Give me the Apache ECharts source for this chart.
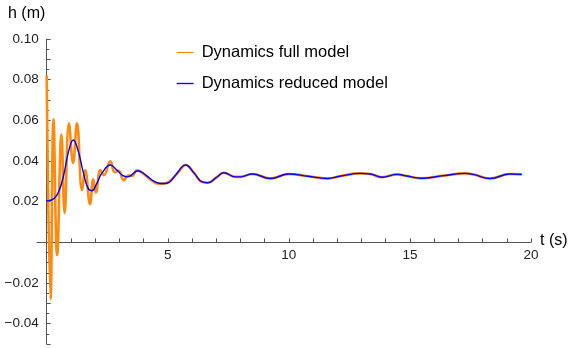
<!DOCTYPE html>
<html>
<head>
<meta charset="utf-8">
<script src="https://cdn.jsdelivr.net/npm/echarts@6/dist/echarts.min.js"></script>
<style>
html,body{margin:0;padding:0;background:#fff;}
#c{width:570px;height:348px;}
</style>
</head>
<body>
<div id="c"></div>
<script>
// Dynamics full model
const fullT = [0, 0.16, 0.28, 0.43, 0.61, 0.74, 0.92, 1.09, 1.25, 1.46, 1.59, 1.79, 1.92, 2.03, 2.22, 2.36, 2.63, 2.81, 2.97, 3.18, 3.39, 3.52, 3.73, 3.94, 4.07, 4.35, 4.62,
  4.9, 5.2, 5.45, 5.74, 6.08, 6.4, 6.65, 7.0, 7.31, 7.8, 8.0, 8.49, 9.24, 10.0, 10.8, 11.6, 12.1, 12.95, 13.36, 13.85, 14.47, 14.88, 15.45, 16.4, 17.28, 17.62, 18.31, 19.13, 19.62];
const fullH = [0.082, -0.028, 0.0605, -0.0063, 0.053, 0.0144, 0.0586, 0.039, 0.0586, 0.0257, 0.0355, 0.0188, 0.031, 0.0245, 0.0355, 0.033, 0.0398, 0.0345, 0.0352, 0.0306, 0.033, 0.0326, 0.0354, 0.0342, 0.033, 0.0303, 0.0288,
  0.029, 0.0314, 0.0347, 0.038, 0.0342, 0.0298, 0.0293, 0.0318, 0.0342, 0.0322, 0.0322, 0.0336, 0.0314, 0.0336, 0.0325, 0.0314, 0.0325, 0.0339, 0.0336, 0.032, 0.0334, 0.0326, 0.0315, 0.0328, 0.0339, 0.0334, 0.0314, 0.0336, 0.0334];
// Dynamics reduced model
const reducedT = [0, 0.3, 0.5, 0.7, 0.9, 1.1, 1.3, 1.5, 1.7, 1.87, 2.05, 2.28, 2.63, 2.9, 3.15, 3.35, 3.77, 4.14, 4.4, 4.72, 5.0, 5.3, 5.74, 6.08, 6.4, 6.65, 7.0, 7.31, 7.8, 8.0, 8.49, 9.24, 10.0, 10.8, 11.6, 12.1, 12.95, 13.36, 13.85, 14.47, 14.88, 15.45, 16.4, 17.28, 17.62, 18.31, 19.13, 19.62];
const reducedH = [0.0203, 0.0215, 0.025, 0.033, 0.0445, 0.0503, 0.045, 0.035, 0.0268, 0.0254, 0.0285, 0.034, 0.038, 0.0355, 0.0328, 0.0322, 0.0352, 0.0326, 0.0302, 0.0289, 0.0292, 0.0328, 0.038, 0.0342, 0.0298, 0.0293, 0.0318, 0.0342, 0.0322, 0.0322, 0.0336, 0.0314, 0.0336, 0.0325, 0.0314, 0.0325, 0.0339, 0.0336, 0.032, 0.0334, 0.0326, 0.0315, 0.0328, 0.0339, 0.0334, 0.0314, 0.0336, 0.0334];
// Tick labels
const xTickLabels = [5, 10, 15, 20];
const xTicks = [1,2,3,4,5,6,7,8,9,10,11,12,13,14,15,16,17,18,19,20];
const yTickLabels = [-0.04, -0.02, 0.02, 0.04, 0.06, 0.08, 0.10];
const seriesNames = ['Dynamics full model', 'Dynamics reduced model'];

const fullData = fullT.map((t, i) => [t, fullH[i]]);
const reducedData = reducedT.map((t, i) => [t, reducedH[i]]);

const X_MIN = -0.4, X_MAX = 20, Y_MIN = -0.05, Y_MAX = 0.1;
const W = 570, H = 348;
const G = {left: 37, right: 39, top: 39, bottom: 4};
const gw = W - G.left - G.right, gh = H - G.top - G.bottom;
// shift axes onto the zero lines (whole axis: line, ticks, labels)
const xOffset = -(gh * (0 - Y_MIN) / (Y_MAX - Y_MIN));
const yOffset = -(gw * (0 - X_MIN) / (X_MAX - X_MIN));

const font = 'Liberation Sans, Arial, sans-serif';
const chart = echarts.init(document.getElementById('c'), null, {renderer: 'canvas'});
chart.setOption({
  animation: false,
  backgroundColor: '#fff',
  grid: Object.assign({containLabel: false}, G),
  legend: {
    orient: 'vertical', left: 171, top: 39, itemGap: 14,
    itemWidth: 17, itemHeight: 16,
    data: seriesNames,
    itemStyle: {opacity: 0},
    lineStyle: {width: 1.3},
    textStyle: {fontFamily: font, fontSize: 16.5, color: '#000', padding: [0, 0, 0, 3]}
  },
  xAxis: {
    type: 'value', min: X_MIN, max: X_MAX, offset: xOffset,
    axisLine: {onZero: false, lineStyle: {color: '#555', width: 1}},
    axisTick: {show: true, inside: true, length: 4, customValues: xTicks, lineStyle: {color: '#555'}},
    axisLabel: {customValues: xTickLabels, showMaxLabel: true, showMinLabel: true, margin: 6,
      fontFamily: font, fontSize: 13.5, color: '#222'},
    splitLine: {show: false}
  },
  yAxis: {
    type: 'value', min: Y_MIN, max: Y_MAX, interval: 0.01, offset: yOffset,
    axisLine: {show: true, onZero: false, lineStyle: {color: '#555', width: 1}},
    axisTick: {show: true, inside: true, length: 4, lineStyle: {color: '#555'}},
    minorTick: {show: true, splitNumber: 2, length: 2.5, lineStyle: {color: '#555'}},
    axisLabel: {
      margin: 8, fontFamily: font, fontSize: 13.5, color: '#222', showMaxLabel: true,
      formatter: function (v) {
        const k = Math.round(v * 100);
        const hit = yTickLabels.some(y => Math.round(y * 100) === k);
        if (!hit) return '';
        return (k < 0 ? '\u2212' : '') + Math.abs(v).toFixed(2);
      }
    },
    splitLine: {show: false}
  },
  graphic: [
    {type: 'text', left: 8, top: 6, style: {text: 'h (m)', fontFamily: font, fontSize: 16, fill: '#000'}},
    {type: 'text', left: 540, top: 233, style: {text: 't (s)', fontFamily: font, fontSize: 16, fill: '#000'}}
  ],
  series: [
    {name: seriesNames[0], type: 'line', data: fullData, smooth: 0.45, symbol: 'none',
      lineStyle: {color: '#FF8A10', width: 2.6}, itemStyle: {color: '#FF8A10'}, z: 2},
    {name: seriesNames[1], type: 'line', data: reducedData, smooth: 0.45, symbol: 'none',
      lineStyle: {color: '#0000FF', width: 1.4}, itemStyle: {color: '#0000FF'}, z: 3}
  ]
});
</script>
</body>
</html>
